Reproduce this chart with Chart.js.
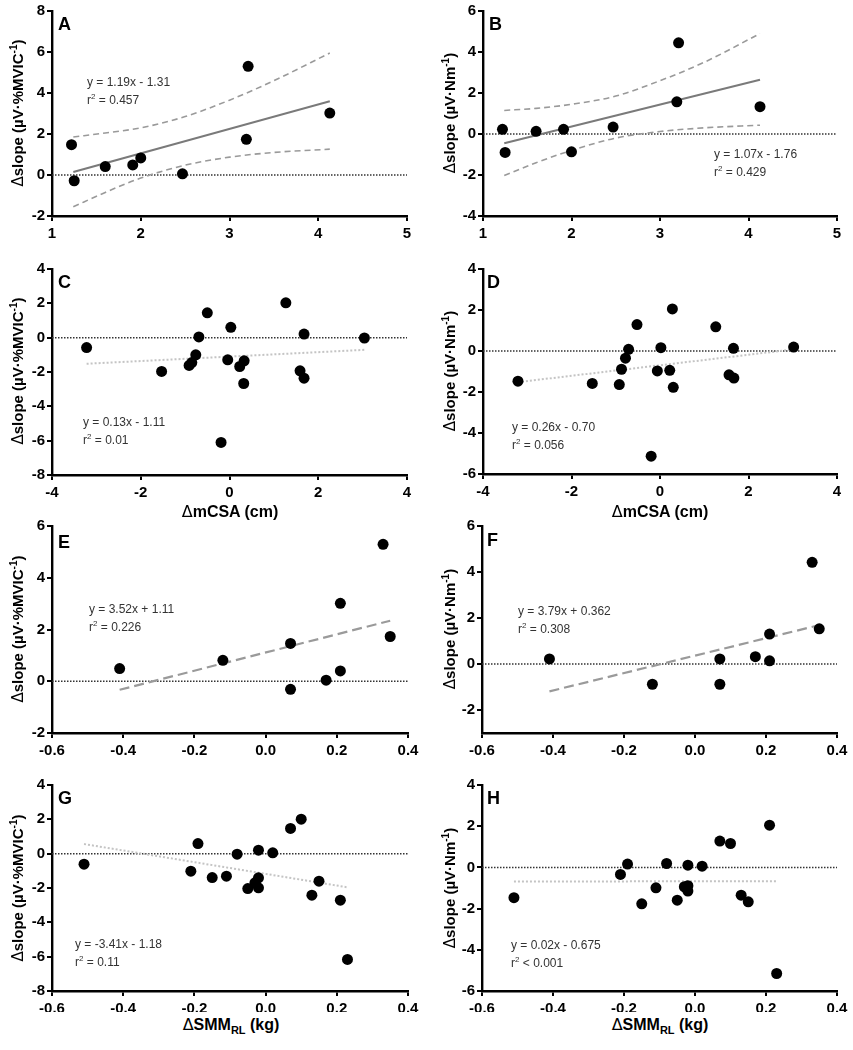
<!DOCTYPE html>
<html>
<head>
<meta charset="utf-8">
<script src="https://cdn.jsdelivr.net/npm/chart.js@4"></script>
<style>
  html, body { margin: 0; padding: 0; background: #fff; }
  body { width: 853px; height: 1050px; position: relative; overflow: hidden; font-family: Arial, "Liberation Sans", sans-serif; }
  canvas { position: absolute; }
  .t { position: absolute; white-space: nowrap; color: #000; }
  .letter { font-size: 18px; font-weight: bold; line-height: 18px; }
  .eq { font-size: 12px; color: #333; line-height: 14px; }
  .eq sup { font-size: 8px; line-height: 0; vertical-align: 5px; }
  .ytitle { font-size: 15px; font-weight: bold; transform: translate(-50%, -50%) rotate(-90deg); line-height: 18px; }
  .xtitle { font-size: 16px; font-weight: bold; transform: translate(-50%, -50%); line-height: 18px; }
  .ytitle sup { font-size: 10px; line-height: 0; vertical-align: 6px; }
  .xtitle sub { font-size: 11px; line-height: 0; vertical-align: -4px; }
  .d { font-weight: normal; font-family: "DejaVu Sans", sans-serif; }
</style>
</head>
<body>
<script>
// ---------- data ----------
const xAB = [1.22, 1.25, 1.60, 1.91, 2.00, 2.47, 3.21, 3.19, 4.13];
const yA  = [1.48, -0.28, 0.41, 0.49, 0.83, 0.06, 5.30, 1.74, 3.02];
const yB  = [0.23, -0.90, 0.13, 0.23, -0.87, 0.34, 4.45, 1.57, 1.33];
const fitX_AB = [1.24, 4.13];
const fitA = [0.15, 3.60];
const fitB = [-0.45, 2.65];
const ciX = [1.24, 1.6, 2.0, 2.5, 3.0, 3.5, 4.13];
const ciA_up = [1.85, 2.05, 2.30, 2.85, 3.65, 4.60, 5.95];
const ciA_lo = [-1.55, -0.85, -0.15, 0.48, 0.87, 1.10, 1.26];
const ciB_up = [1.15, 1.25, 1.45, 1.85, 2.60, 3.50, 4.90];
const ciB_lo = [-2.03, -1.40, -0.80, -0.20, 0.12, 0.30, 0.43];

const xC = [-3.22, -1.53, -0.91, -0.85, -0.76, -0.69, -0.50, -0.19, -0.04, 0.03, 0.23, 0.33, 0.32, 1.27, 1.59, 1.68, 1.68, 3.04];
const yC = [-0.58, -1.97, -1.62, -1.45, -1.00, 0.04, 1.45, -6.10, -1.29, 0.60, -1.68, -1.35, -2.67, 2.03, -1.93, 0.21, -2.36, -0.02];
const xD = [-3.21, -1.53, -0.92, -0.87, -0.78, -0.71, -0.52, -0.20, -0.06, 0.02, 0.22, 0.28, 0.30, 1.26, 1.56, 1.66, 1.67, 3.02];
const yD = [-1.47, -1.58, -1.64, -0.89, -0.35, 0.08, 1.29, -5.13, -0.97, 0.16, -0.94, 2.05, -1.77, 1.18, -1.16, 0.13, -1.32, 0.19];
const fitC_x = [-3.22, 3.04], fitC_y = [-1.52, -0.71];
const fitD_x = [-3.21, 3.02], fitD_y = [-1.52, 0.08];

const xEF = [-0.41, -0.12, 0.07, 0.07, 0.17, 0.21, 0.21, 0.33, 0.35];
const yE  = [0.49, 0.81, 1.46, -0.31, 0.04, 3.01, 0.40, 5.29, 1.73];
const yF  = [0.22, -0.88, 0.22, -0.88, 0.32, 1.30, 0.14, 4.42, 1.53];
const fitEF_x = [-0.41, 0.35];
const fitE_y = [-0.33, 2.34];
const fitF_y = [-1.19, 1.69];

const xGH = [-0.51, -0.21, -0.19, -0.15, -0.11, -0.08, -0.05, -0.03, -0.02, -0.02, -0.02, 0.02, 0.07, 0.10, 0.13, 0.15, 0.21, 0.23];
const yG  = [-0.61, -1.02, 0.59, -1.39, -1.31, -0.03, -2.03, -1.70, 0.20, -1.41, -1.99, 0.05, 1.47, 2.01, -2.42, -1.60, -2.71, -6.16];
const yH  = [-1.47, -0.34, 0.16, -1.77, -0.99, 0.19, -1.59, -0.94, -0.89, -1.15, 0.11, 0.06, 1.28, 1.16, -1.35, -1.67, 2.05, -5.15];
const fitGH_x = [-0.51, 0.23];
const fitG_y = [0.56, -1.96];
const fitH_y = [-0.685, -0.670];

// tick labels
const ticksX_AB = [1, 2, 3, 4, 5];
const ticksX_CD = [-4, -2, 0, 2, 4];
const ticksX_EH = [-0.6, -0.4, -0.2, 0.0, 0.2, 0.4];
const ticksY_A = [-2, 0, 2, 4, 6, 8];
const ticksY_B = [-4, -2, 0, 2, 4, 6];
const ticksY_C = [-8, -6, -4, -2, 0, 2, 4];
const ticksY_D = [-6, -4, -2, 0, 2, 4];
const ticksY_E = [-2, 0, 2, 4, 6];
const ticksY_F = [-2, 0, 2, 4, 6];
const ticksY_G = [-8, -6, -4, -2, 0, 2, 4];
const ticksY_H = [-6, -4, -2, 0, 2, 4];

const panelLetters = ['A', 'B', 'C', 'D', 'E', 'F', 'G', 'H'];
const equations = ['y = 1.19x - 1.31', 'y = 1.07x - 1.76', 'y = 0.13x - 1.11', 'y = 0.26x - 0.70',
                   'y = 3.52x + 1.11', 'y = 3.79x + 0.362', 'y = -3.41x - 1.18', 'y = 0.02x - 0.675'];
const r2Texts = ['= 0.457', '= 0.429', '= 0.01', '= 0.056', '= 0.226', '= 0.308', '= 0.11', '< 0.001'];

// ---------- helpers ----------
const pts = (xs, ys) => xs.map((v, i) => ({ x: v, y: ys[i] }));
const FONT = 'Arial, "Liberation Sans", sans-serif';

const zeroLine = {
  id: 'zeroLine',
  beforeDatasetsDraw(chart) {
    const { ctx, chartArea: a, scales } = chart;
    const py = scales.y.getPixelForValue(0);
    ctx.save();
    ctx.strokeStyle = '#333';
    ctx.lineWidth = 1.5;
    ctx.setLineDash([1.5, 1.5]);
    ctx.beginPath();
    ctx.moveTo(a.left, py);
    ctx.lineTo(a.right, py);
    ctx.stroke();
    ctx.restore();
  }
};

function scatterSet(xs, ys) {
  return { data: pts(xs, ys), pointRadius: 5.5, pointHoverRadius: 5.5, backgroundColor: '#000', borderWidth: 0, order: 0 };
}
function lineSet(xs, ys, style) {
  return Object.assign({ data: pts(xs, ys), showLine: true, pointRadius: 0, fill: false, order: 1 }, style);
}
const solidFit = { borderColor: '#7a7a7a', borderWidth: 2 };
const ciStyle = { borderColor: '#9a9a9a', borderWidth: 1.6, borderDash: [6, 4], cubicInterpolationMode: 'monotone' };
const dottedFit = { borderColor: '#c4c4c4', borderWidth: 2, borderDash: [2, 2] };
const dashedFit = { borderColor: '#9a9a9a', borderWidth: 2.2, borderDash: [10, 5] };

function addText(cls, html, x, y) {
  const d = document.createElement('div');
  d.className = 't ' + cls;
  d.innerHTML = html;
  d.style.left = x + 'px';
  d.style.top = y + 'px';
  document.body.appendChild(d);
  return d;
}

function makePanel(p) {
  const c = document.createElement('canvas');
  c.width = p.box.w; c.height = p.box.h;
  c.style.left = p.box.l + 'px'; c.style.top = p.box.t + 'px';
  c.style.width = p.box.w + 'px'; c.style.height = p.box.h + 'px';
  document.body.appendChild(c);
  const a = p.area;
  const tickFont = { family: FONT, size: 15, weight: 'bold' };
  const grid = { display: true, drawOnChartArea: false, drawTicks: true, tickLength: 5, color: '#000', lineWidth: 2 };
  const border = { display: true, color: '#000', width: 2.4 };
  new Chart(c, {
    type: 'scatter',
    data: { datasets: p.datasets },
    options: {
      responsive: false,
      animation: false,
      devicePixelRatio: 1,
      layout: { autoPadding: false, padding: { left: 0, top: a.t - p.box.t, right: (p.box.l + p.box.w) - a.r, bottom: 0 } },
      plugins: { legend: { display: false }, tooltip: { enabled: false } },
      scales: {
        x: {
          type: 'linear', min: p.xTicks[0], max: p.xTicks[p.xTicks.length - 1],
          afterBuildTicks: s => { s.ticks = p.xTicks.map(v => ({ value: v })); },
          afterFit: s => { s.height = (p.box.t + p.box.h) - a.b; },
          grid, border,
          ticks: { font: tickFont, color: '#000', padding: 4, maxRotation: 0, autoSkip: false,
                   callback: v => p.xDec ? Number(v).toFixed(p.xDec) : String(v) }
        },
        y: {
          type: 'linear', min: p.yMin, max: p.yMax,
          afterBuildTicks: s => { s.ticks = p.yTicks.map(v => ({ value: v })); },
          afterFit: s => { s.width = a.l - p.box.l; },
          grid, border,
          ticks: { font: tickFont, color: '#000', padding: 2, callback: v => String(v) }
        }
      }
    },
    plugins: [zeroLine]
  });
}

// ---------- panels ----------
const panels = [
  { box: { l: 0, t: 0, w: 425, h: 258 }, area: { l: 52, r: 407, t: 10, b: 216 },
    xTicks: ticksX_AB, yTicks: ticksY_A, yMin: -2, yMax: 8,
    datasets: [scatterSet(xAB, yA), lineSet(fitX_AB, fitA, solidFit), lineSet(ciX, ciA_up, ciStyle), lineSet(ciX, ciA_lo, ciStyle)] },
  { box: { l: 425, t: 0, w: 428, h: 258 }, area: { l: 483, r: 837, t: 10, b: 216 },
    xTicks: ticksX_AB, yTicks: ticksY_B, yMin: -4, yMax: 6,
    datasets: [scatterSet(xAB, yB), lineSet(fitX_AB, fitB, solidFit), lineSet(ciX, ciB_up, ciStyle), lineSet(ciX, ciB_lo, ciStyle)] },
  { box: { l: 0, t: 258, w: 425, h: 242 }, area: { l: 52, r: 407, t: 268, b: 475 },
    xTicks: ticksX_CD, yTicks: ticksY_C, yMin: -8, yMax: 4,
    datasets: [scatterSet(xC, yC), lineSet(fitC_x, fitC_y, dottedFit)] },
  { box: { l: 425, t: 258, w: 428, h: 242 }, area: { l: 483, r: 837, t: 268, b: 474 },
    xTicks: ticksX_CD, yTicks: ticksY_D, yMin: -6, yMax: 4,
    datasets: [scatterSet(xD, yD), lineSet(fitD_x, fitD_y, dottedFit)] },
  { box: { l: 0, t: 515, w: 425, h: 250 }, area: { l: 52, r: 408, t: 526, b: 733 },
    xTicks: ticksX_EH, xDec: 1, yTicks: ticksY_E, yMin: -2, yMax: 6,
    datasets: [scatterSet(xEF, yE), lineSet(fitEF_x, fitE_y, dashedFit)] },
  { box: { l: 425, t: 515, w: 428, h: 250 }, area: { l: 482, r: 837, t: 526, b: 733 },
    xTicks: ticksX_EH, xDec: 1, yTicks: ticksY_F, yMin: -3, yMax: 6,
    datasets: [scatterSet(xEF, yF), lineSet(fitEF_x, fitF_y, dashedFit)] },
  { box: { l: 0, t: 772, w: 425, h: 240 }, area: { l: 52, r: 408, t: 785, b: 991 },
    xTicks: ticksX_EH, xDec: 1, yTicks: ticksY_G, yMin: -8, yMax: 4,
    datasets: [scatterSet(xGH, yG), lineSet(fitGH_x, fitG_y, dottedFit)] },
  { box: { l: 425, t: 772, w: 428, h: 240 }, area: { l: 482, r: 837, t: 785, b: 991 },
    xTicks: ticksX_EH, xDec: 1, yTicks: ticksY_H, yMin: -6, yMax: 4,
    datasets: [scatterSet(xGH, yH), lineSet(fitGH_x, fitH_y, dottedFit)] }
];
panels.forEach(makePanel);

// ---------- text overlays ----------
const letterPos = [[58, 15], [489, 15], [58, 273], [487, 273], [58, 533], [487, 531], [58, 789], [487, 789]];
const eqPos = [[87, 75], [714, 147], [83, 415], [512, 420], [89, 602], [518, 604], [75, 937], [511, 938]];
panelLetters.forEach((L, i) => addText('letter', L, letterPos[i][0], letterPos[i][1]));
equations.forEach((e, i) => {
  addText('eq', e, eqPos[i][0], eqPos[i][1]);
  addText('eq', 'r<sup>2</sup> ' + r2Texts[i], eqPos[i][0], eqPos[i][1] + 18);
});

const yTitleL = '<span class="d">Δ</span>slope (µV·%MVIC<sup>-1</sup>)';
const yTitleR = '<span class="d">Δ</span>slope (µV·Nm<sup>-1</sup>)';
const yTitles = [[18, 113, yTitleL], [450, 113, yTitleR], [18, 371, yTitleL], [450, 371, yTitleR],
                 [18, 629, yTitleL], [450, 629, yTitleR], [18, 888, yTitleL], [450, 888, yTitleR]];
yTitles.forEach(t => addText('ytitle', t[2], t[0], t[1]));

const xTitleCD = '<span class="d">Δ</span>mCSA (cm)';
const xTitleGH = '<span class="d">Δ</span>SMM<sub>RL</sub> (kg)';
addText('xtitle', xTitleCD, 230, 512);
addText('xtitle', xTitleCD, 660, 512);
addText('xtitle', xTitleGH, 231, 1025);
addText('xtitle', xTitleGH, 660, 1025);
</script>
</body>
</html>
